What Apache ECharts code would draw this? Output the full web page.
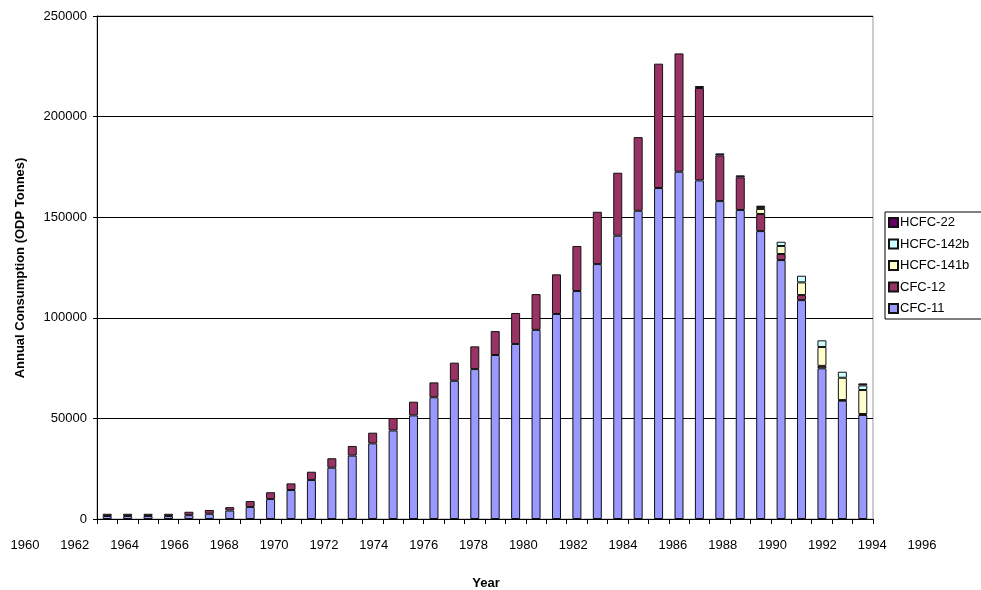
<!DOCTYPE html>
<html>
<head>
<meta charset="utf-8">
<script src="https://cdn.jsdelivr.net/npm/echarts@6/dist/echarts.min.js"></script>
<style>
  html, body { margin: 0; padding: 0; background: #fff; }
  #chart { width: 981px; height: 590px; }
</style>
</head>
<body>
<div id="chart"></div>
<script>
// years of the bars
const years = ['1961', '1962', '1963', '1964', '1965', '1966', '1967', '1968', '1969', '1970',
    '1971', '1972', '1973', '1974', '1975', '1976', '1977', '1978', '1979', '1980',
    '1981', '1982', '1983', '1984', '1985', '1986', '1987', '1988', '1989', '1990',
    '1991', '1992', '1993', '1994', '1995', '1996', '1997', '1998'];

// tick labels printed under the axis (every second year)
const yearLabels = ['1960', '1962', '1964', '1966', '1968', '1970', '1972', '1974', '1976', '1978',
    '1980', '1982', '1984', '1986', '1988', '1990', '1992', '1994', '1996'];

const cfc11 = [1500, 1500, 1500, 1500, 1900, 2600, 4200, 6000, 9900, 14400,
    19400, 25500, 31500, 37600, 44000, 51500, 60500, 68700, 74500, 81500,
    87000, 94000, 101900, 113300, 126700, 140800, 153200, 164500, 172600, 168300,
    158000, 153600, 143100, 128700, 108800, 74900, 58800, 51700];

const cfc12 = [1100, 1100, 1100, 1100, 1700, 1900, 1700, 2900, 3400, 3300,
    4100, 4700, 4800, 5300, 6200, 6800, 7400, 9000, 11300, 11900,
    15400, 17800, 19700, 22400, 26000, 31300, 36600, 61800, 58800, 45900,
    22700, 16200, 8500, 3000, 2500, 1200, 300, 500];

const hcfc141b = [null, null, null, null, null, null, null, null, null, null,
    null, null, null, null, null, null, null, null, null, null,
    null, null, null, null, null, null, null, null, null, null,
    null, null, 2500, 4000, 6300, 9400, 11100, 11900];

const hcfc142b = [null, null, null, null, null, null, null, null, null, null,
    null, null, null, null, null, null, null, null, null, null,
    null, null, null, null, null, null, null, null, null, null,
    null, null, 1000, 2100, 3300, 3300, 3000, 2300];

const hcfc22 = [null, null, null, null, null, null, null, null, null, null,
    null, null, null, null, null, null, null, null, null, null,
    null, null, null, null, null, null, null, null, null, 1000,
    1000, 1000, 600, null, null, null, null, 1000];

const font = 'Arial, "Liberation Sans", sans-serif';

function barSeries(name, data, color) {
    return {
        name: name,
        type: 'bar',
        stack: 'total',
        data: data,
        barWidth: 9,
        itemStyle: {
            color: color,
            borderColor: '#111',
            borderWidth: 1
        },
        animation: false
    };
}

const option = {
    backgroundColor: '#fff',
    textStyle: { fontFamily: font, color: '#000' },
    grid: [
        {
            left: 97, right: 108, top: 16, bottom: 71,
            show: true, borderColor: '#999', borderWidth: 1
        },
        // grid only used to place the year labels
        { left: -3, width: 950, top: 16, bottom: 71 }
    ],
    legend: {
        orient: 'vertical',
        left: 885,
        top: 212,
        data: ['HCFC-22', 'HCFC-142b', 'HCFC-141b', 'CFC-12', 'CFC-11'],
        icon: 'rect',
        itemWidth: 9,
        itemHeight: 9,
        itemGap: 8.5,
        padding: [4, 14, 4, 3],
        borderColor: '#000',
        borderWidth: 1,
        textStyle: { fontFamily: font, fontSize: 13, color: '#000', padding: [0, 0, 0, -3] },
        selectedMode: false
    },
    xAxis: [
        {
            type: 'category',
            gridIndex: 0,
            data: years,
            axisLine: { lineStyle: { color: '#000', width: 1 } },
            axisTick: { show: true, interval: 0, length: 5, lineStyle: { color: '#000' } },
            axisLabel: { show: false }
        },
        {
            type: 'category',
            gridIndex: 1,
            data: yearLabels,
            axisLine: { show: false },
            axisTick: { show: false },
            axisLabel: { interval: 0, margin: 20, fontSize: 13, color: '#000', fontFamily: font }
        }
    ],
    yAxis: [
        {
            type: 'value',
            gridIndex: 0,
            min: 0,
            max: 250000,
            interval: 50000,
            axisLine: { show: true, lineStyle: { color: '#000', width: 1 } },
            axisTick: { show: true, length: 4, lineStyle: { color: '#000' } },
            axisLabel: {
                margin: 10, fontSize: 13, color: '#000', fontFamily: font,
                formatter: function (value) { return String(value); }
            },
            splitLine: { lineStyle: { color: '#000', width: 1 } }
        },
        { type: 'value', gridIndex: 1, show: false }
    ],
    graphic: [
        {
            type: 'text',
            x: 20,
            y: 268,
            rotation: Math.PI / 2,
            style: {
                text: 'Annual Consumption (ODP Tonnes)',
                font: 'bold 13px ' + font,
                fill: '#000',
                textAlign: 'center',
                textVerticalAlign: 'middle'
            }
        },
        {
            type: 'text',
            x: 486,
            y: 583,
            style: {
                text: 'Year',
                font: 'bold 13px ' + font,
                fill: '#000',
                textAlign: 'center',
                textVerticalAlign: 'middle'
            }
        }
    ],
    series: [
        barSeries('CFC-11', cfc11, '#9999FF'),
        barSeries('CFC-12', cfc12, '#993366'),
        barSeries('HCFC-141b', hcfc141b, '#FFFFCC'),
        barSeries('HCFC-142b', hcfc142b, '#CCFFFF'),
        barSeries('HCFC-22', hcfc22, '#660066')
    ]
};

const myChart = echarts.init(document.getElementById('chart'));
myChart.setOption(option);
window.addEventListener('resize', myChart.resize);
</script>
</body>
</html>
